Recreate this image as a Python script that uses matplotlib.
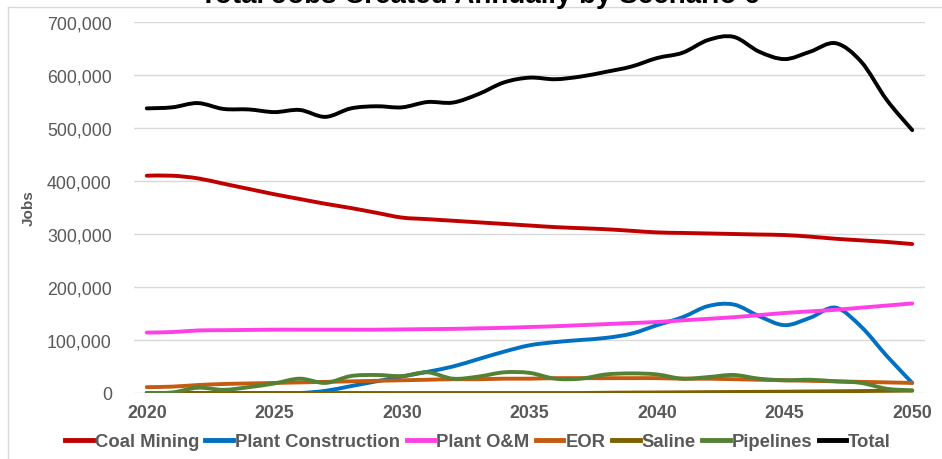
import numpy as np
import matplotlib
matplotlib.use("Agg")
import matplotlib.pyplot as plt
from matplotlib.path import Path
from matplotlib.patches import PathPatch
from matplotlib.lines import Line2D
from matplotlib.ticker import FuncFormatter

plt.rcParams['font.family'] = ['Liberation Sans', 'DejaVu Sans']

years = list(range(2020, 2051))

coal_mining = [410000, 410000, 405000, 395000, 385000, 375000, 366000, 357000, 349000, 340000,
               331000, 328000, 325000, 322000, 319000, 316000, 313000, 311000, 309000, 306000,
               303000, 302000, 301000, 300000, 299000, 298000, 295000, 291000, 288000, 285000, 281000]
plant_construction = [0, 0, 0, 0, 0, 0, 0, 4000, 13000, 22000,
                      31000, 40000, 50000, 64000, 78000, 90000, 96000, 100000, 104000, 112000,
                      128000, 143000, 164000, 167000, 145000, 128000, 142000, 161000, 125000, 70000, 19000]
plant_om = [114000, 115000, 118000, 118500, 119000, 119500, 119500, 119500, 119500, 119500,
            120000, 120500, 121000, 122000, 123000, 124500, 126000, 128000, 130000, 132000,
            134000, 137000, 140000, 143000, 147000, 151000, 154000, 157000, 161000, 165000, 169000]
eor = [11000, 12000, 15000, 17000, 18000, 19000, 20000, 21000, 22000, 23000,
       24000, 25000, 26000, 26000, 27000, 27000, 28000, 28000, 28000, 28000,
       28000, 27000, 27000, 26000, 25000, 24000, 23000, 22000, 21000, 20000, 19000]
saline = [0, 0, 0, 0, 0, 0, 0, 0, 0, 0,
          0, 0, 0, 0, 0, 0, 0, 0, 500, 800,
          1000, 1300, 1600, 1900, 2200, 2500, 2900, 3300, 3700, 4100, 4500]
pipelines = [0, 1000, 10000, 6000, 11000, 18000, 27000, 19000, 32000, 34000,
             32000, 39000, 27000, 31000, 39000, 38000, 27000, 27000, 35000, 37000,
             35000, 27000, 30000, 34000, 27000, 24000, 25000, 22000, 19000, 8000, 5000]
total = [537000, 539000, 547000, 536000, 535000, 530000, 534000, 521000, 537000, 541000,
         539000, 549000, 548000, 564000, 586000, 595000, 592000, 597000, 606000, 616000,
         632000, 642000, 666000, 672000, 644000, 630000, 644000, 660000, 625000, 553000, 496000]

series = [
    ("Coal Mining", coal_mining, "#C00000"),
    ("Plant Construction", plant_construction, "#0070C0"),
    ("Plant O&M", plant_om, "#FF40E6"),
    ("EOR", eor, "#C55A11"),
    ("Saline", saline, "#7F6000"),
    ("Pipelines", pipelines, "#548235"),
    ("Total", total, "#000000"),
]


def smooth_path(x, y):
    # cubic bezier through every point, control points from the neighbours
    x = np.asarray(x, float)
    y = np.asarray(y, float)
    n = len(x)
    verts = [(x[0], y[0])]
    codes = [Path.MOVETO]
    for i in range(n - 1):
        i0 = max(i - 1, 0)
        i3 = min(i + 2, n - 1)
        c1 = (x[i] + (x[i + 1] - x[i0]) / 6, y[i] + (y[i + 1] - y[i0]) / 6)
        c2 = (x[i + 1] - (x[i3] - x[i]) / 6, y[i + 1] - (y[i3] - y[i]) / 6)
        verts += [c1, c2, (x[i + 1], y[i + 1])]
        codes += [Path.CURVE4] * 3
    return Path(verts, codes)


fig = plt.figure(figsize=(9.42, 4.6), dpi=100)
ax = fig.add_axes([134 / 942, 66 / 460, 791 / 942, 371 / 460])

handles = []
for name, vals, col in series:
    patch = PathPatch(smooth_path(years, vals), facecolor='none', edgecolor=col,
                      lw=2.8, capstyle='round', joinstyle='round', zorder=3)
    ax.add_patch(patch)
    handles.append(Line2D([], [], color=col, lw=3.5, label=name))

ax.set_xlim(2019.5, 2050.5)
ax.set_ylim(0, 700000)
ax.set_xticks(range(2020, 2051, 5))
ax.set_yticks(range(0, 700001, 100000))
ax.yaxis.set_major_formatter(FuncFormatter(lambda v, p: f"{int(v):,}"))
ax.grid(axis='y', color='#D9D9D9', lw=1)
ax.set_axisbelow(True)
for s in ax.spines.values():
    s.set_visible(False)
ax.tick_params(length=0)
ax.tick_params(axis='y', labelsize=12.8, labelcolor='#595959', pad=16)
ax.tick_params(axis='x', labelsize=12.8, labelcolor='#595959', pad=8)
for lab in ax.get_xticklabels():
    lab.set_fontweight('bold')

ax.set_ylabel('Jobs', fontsize=11, fontweight='bold', color='#595959', labelpad=4)
ax.yaxis.set_label_coords(-98 / 791, 0.5)

fig.text(480 / 942, 1 - 3 / 460, 'Total Jobs Created Annually by Scenario 6',
         ha='center', va='baseline', fontsize=20, fontweight='bold', color='black')

# chart frame edges
fig.add_artist(Line2D([8 / 942, 8 / 942], [0, 1 - 8 / 460], color='#D9D9D9', lw=1))
fig.add_artist(Line2D([8 / 942, 1], [1 - 8 / 460, 1 - 8 / 460], color='#D9D9D9', lw=1))

fig.legend(handles=handles, loc='center', bbox_to_anchor=(478 / 942, 1 - 443 / 460),
           ncol=7, frameon=False, handlelength=1.5, handletextpad=0.1, columnspacing=0.35,
           prop={'size': 13.3, 'weight': 'bold'}, labelcolor='#595959')

fig.savefig('out.png', dpi=100, facecolor='white')
